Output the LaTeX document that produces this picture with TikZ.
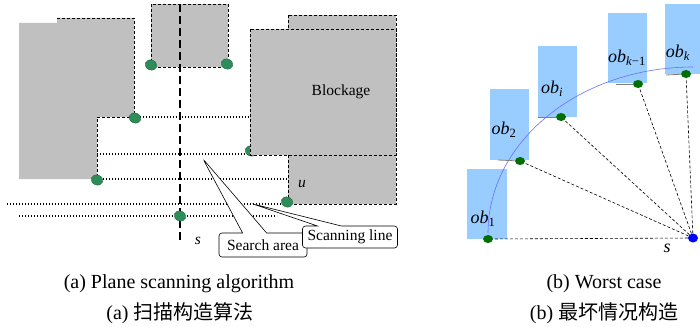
\documentclass[tikz,border=0pt]{standalone}
\usepackage{fontspec}
\setmainfont{Liberation Serif}
\newfontfamily\cjk{Noto Sans CJK SC}
\usetikzlibrary{shapes.geometric,shapes.callouts}
\definecolor{blockgray}{RGB}{192,192,192}
\definecolor{dotgreen}{RGB}{46,142,90}
\definecolor{obblue}{RGB}{153,204,255}
\definecolor{darkdot}{RGB}{0,110,0}
\definecolor{arcblue}{RGB}{110,110,255}
\tikzset{
	outl/.style={line width=0.7pt, dash pattern=on 3pt off 2pt},
	scan/.style={line width=1.4pt, dash pattern=on 1.4pt off 1.6pt},
	sline/.style={line width=1.8pt, dash pattern=on 8pt off 4pt},
	gdot/.style={ellipse, minimum width=12pt, minimum height=10pt, inner sep=0pt, fill=dotgreen, draw=dotgreen!70!black, line width=0.4pt, rotate=-20},
	rdot/.style={ellipse, minimum width=10pt, minimum height=8pt, inner sep=0pt, fill=darkdot},
	sdot/.style={ellipse, minimum width=10pt, minimum height=9pt, inner sep=0pt, fill=blue},
	ray/.style={line width=0.6pt, dash pattern=on 3pt off 2pt},
	callbox/.style={rectangle callout, draw, fill=white, rounded corners=3pt, line width=0.6pt, inner sep=0pt, callout pointer width=24pt, font=\fontsize{15.5}{17}\selectfont},
	lbl/.style={font=\fontsize{15.5}{17}\selectfont},
	oblbl/.style={font=\fontsize{18}{20}\selectfont},
	capt/.style={font=\fontsize{20}{22}\selectfont}
}
\begin{document}
\begin{tikzpicture}[x=1pt, y=-1pt]
	\useasboundingbox ( 0, 0 ) rectangle ( 700, 326 );
	% (a) plane scanning
	\fill [blockgray] ( 19, 23 ) -- ( 57, 23 ) -- ( 57, 18 ) -- ( 134, 18 ) -- ( 134, 117 ) -- ( 97, 117 ) -- ( 97, 179 ) -- ( 19, 179 ) -- cycle;
	\draw [outl] ( 57, 18 ) -- ( 134, 18 ) -- ( 134, 117 ) -- ( 97, 117 ) -- ( 97, 179 );
	\draw [outl, fill=blockgray] ( 151, 4 ) rectangle ( 228, 67 );
	\draw [outl, fill=blockgray] ( 288, 15 ) rectangle ( 396, 204 );
	\draw [scan] ( 134, 117 ) -- ( 250, 117 );
	\draw [scan] ( 97, 154 ) -- ( 250, 154 );
	\draw [scan] ( 97, 179 ) -- ( 288, 179 );
	\draw [scan] ( 7, 204 ) -- ( 287, 204 );
	\draw [scan] ( 19, 216 ) -- ( 277, 216 );
	\draw [sline] ( 180, 4 ) -- ( 180, 240 );
	\node [gdot] (p1) at ( 151, 65 ) {};
	\node [gdot] (p2) at ( 227, 64 ) {};
	\node [gdot] (p3) at ( 135, 118 ) {};
	\node [gdot] (p4) at ( 251, 151 ) {};
	\node [gdot] (p5) at ( 97, 180 ) {};
	\node [gdot] (p6) at ( 287, 202 ) {};
	\node [gdot] (p7) at ( 180, 216 ) {};
	\draw [outl, fill=blockgray] ( 250, 29 ) rectangle ( 396, 155 );
	\node [lbl] (blk) at ( 341, 92 ) {Blockage};
	\node [lbl] (u) at ( 302, 184 ) {\textit{u}};
	\node [lbl] (s1) at ( 198, 241 ) {\textit{s}};
	\node [callbox, minimum width=88pt, minimum height=24pt, callout absolute pointer={( 203, 159 )}] (area) at ( 263, 245 ) {Search area};
	\node [callbox, minimum width=95pt, minimum height=22pt, callout absolute pointer={( 253, 204 )}] (line) at ( 350, 237 ) {Scanning line};
	% (b) worst case
	\fill [obblue] ( 467, 169 ) rectangle ( 507, 239 );
	\fill [obblue] ( 490, 89 ) rectangle ( 529, 160 );
	\fill [obblue] ( 538, 46 ) rectangle ( 577, 117 );
	\fill [obblue] ( 608, 13 ) rectangle ( 647, 83 );
	\fill [obblue] ( 665, 4 ) rectangle ( 705, 74 );
	\node [oblbl] (ob1) at ( 483, 219 ) {\textit{ob}\textsubscript{1}};
	\node [oblbl] (ob2) at ( 504, 130 ) {\textit{ob}\textsubscript{2}};
	\node [oblbl] (obi) at ( 552, 89 ) {\textit{ob}\textsubscript{\textit{i}}};
	\node [oblbl] (obk1) at ( 627, 58 ) {\textit{ob}\textsubscript{\textit{k}\char"2212 1}};
	\node [oblbl] (obk) at ( 678, 53 ) {\textit{ob}\textsubscript{\textit{k}}};
	\draw [arcblue, line width=0.6pt] ( 488, 233 ) arc [start angle=180, end angle=270, x radius=205, y radius=166];
	\node [rdot] (r1) at ( 488, 239 ) {};
	\node [rdot] (r2) at ( 520, 161 ) {};
	\node [rdot] (r3) at ( 561, 117 ) {};
	\node [rdot] (r4) at ( 638, 84 ) {};
	\node [rdot] (r5) at ( 686, 74 ) {};
	\draw [gray, line width=0.8pt] ( 498, 160 ) -- (r2);
	\draw [gray, line width=0.8pt] ( 538, 117 ) -- (r3);
	\draw [gray, line width=0.8pt] ( 616, 84 ) -- (r4);
	\draw [gray, line width=0.8pt] ( 666, 75 ) -- (r5);
	\node [sdot] (s) at ( 693, 238 ) {};
	\node [oblbl] (s2) at ( 667, 248 ) {\textit{s}};
	\foreach \r in {r1, r2, r3, r4, r5}
		\draw [ray] (s) -- (\r);
	% captions
	\node [capt] (capa) at ( 179, 284 ) {(a) Plane scanning algorithm};
	\node [capt] (capac) at ( 180, 313 ) {(a)\ {\cjk 扫描构造算法}};
	\node [capt] (capb) at ( 604, 284 ) {(b) Worst case};
	\node [capt] (capbc) at ( 604, 313 ) {(b)\ {\cjk 最坏情况构造}};
\end{tikzpicture}
\end{document}
